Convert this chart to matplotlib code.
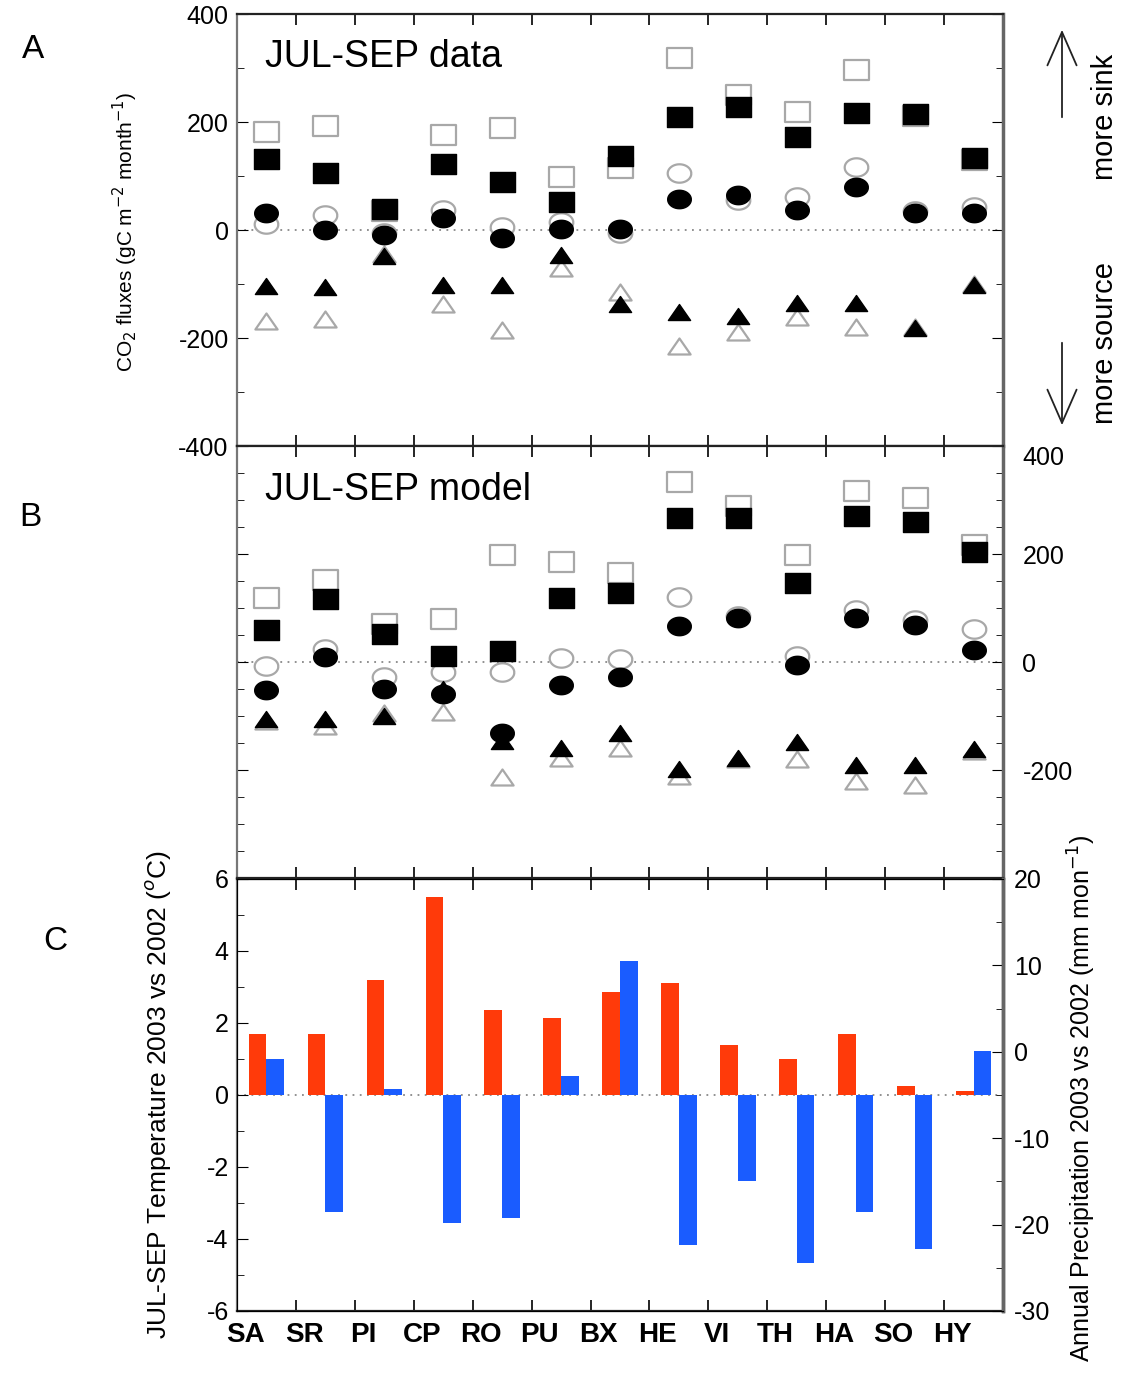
import matplotlib
matplotlib.use('Agg')
import matplotlib.pyplot as plt
import numpy as np
from matplotlib.path import Path
from matplotlib.ticker import MultipleLocator, FixedLocator

plt.rcParams['font.family'] = ['Liberation Sans', 'DejaVu Sans']
plt.rcParams['axes.unicode_minus'] = False

sites = ["SA", "SR", "PI", "CP", "RO", "PU", "BX", "HE", "VI", "TH", "HA", "SO", "HY"]

# panel A - data (filled = 2003, open = 2002)
a_sq_fill = [131, 105, 38, 122, 88, 52, 137, 209, 228, 173, 217, 215, 133]
a_sq_open = [182, 193, 35, 176, 188, 99, 114, 318, 250, 219, 296, 212, 130]
a_ci_fill = [31, 0, -9, 22, -15, 1, 1, 57, 65, 37, 79, 32, 31]
a_ci_open = [11, 28, -5, 37, 6, 14, -5, 106, 56, 62, 116, 35, 43]
a_tr_fill = [-104, -106, -49, -102, -102, -46, -137, -151, -159, -135, -135, -182, -102]
a_tr_open = [-168, -164, -45, -137, -185, -71, -114, -215, -188, -161, -180, -180, -100]

# panel B - model
b_sq_fill = [60, 117, 52, 12, 21, 118, 128, 266, 266, 147, 271, 259, 204]
b_sq_open = [118, 151, 71, 80, 199, 185, 164, 334, 288, 198, 316, 303, 216]
b_ci_fill = [-52, 9, -50, -60, -131, -43, -27, 66, 82, -5, 82, 68, 23]
b_ci_open = [-7, 24, -28, -19, -19, 7, 6, 120, 85, 12, 97, 77, 61]
b_tr_fill = [-106, -105, -100, -50, -146, -159, -132, -199, -177, -148, -190, -190, -162]
b_tr_open = [-110, -118, -95, -92, -213, -177, -159, -211, -180, -180, -221, -227, -165]

# panel C
temp_diff = [1.7, 1.7, 3.2, 5.5, 2.35, 2.15, 2.85, 3.1, 1.4, 1.0, 1.7, 0.25, 0.1]
precip_diff = [-0.8, -18.5, -4.3, -19.8, -19.2, -2.8, 10.5, -22.4, -14.9, -24.5, -18.5, -22.8, 0.1]
precip_base = -5  # bars start at the temperature zero line

x = np.arange(len(sites)) + 0.5

# slightly wide markers (the original figure is stretched horizontally)
sq = Path([(-1, -0.82), (1, -0.82), (1, 0.82), (-1, 0.82), (-1, -0.82)],
          [Path.MOVETO, Path.LINETO, Path.LINETO, Path.LINETO, Path.CLOSEPOLY])
t = np.linspace(0, 2 * np.pi, 60)
ci = Path(np.column_stack([np.cos(t), 0.78 * np.sin(t)]))
tri = Path([(0, 0.72), (-1, -0.72), (1, -0.72), (0, 0.72)],
           [Path.MOVETO, Path.LINETO, Path.LINETO, Path.CLOSEPOLY])

GREY = '#a8a8a8'
TICKFS = 18

fig = plt.figure(figsize=(11.31, 13.77), dpi=100)
L, W, H = 237 / 1131, 766 / 1131, 432 / 1377
axA = fig.add_axes([L, 1 - 446 / 1377, W, H])
axB = fig.add_axes([L, 1 - 878 / 1377, W, H])
axC = fig.add_axes([L, 1 - 1311 / 1377, W, H])


def style_axes(ax):
    ax.set_xlim(0, 13)
    ax.xaxis.set_major_locator(FixedLocator(np.arange(1, 13)))
    ax.tick_params(axis='x', which='major', direction='in', length=8, width=1.2,
                   top=True, bottom=True, labelbottom=False)
    for s in ['top', 'bottom']:
        ax.spines[s].set_linewidth(1.6)
        ax.spines[s].set_color('#222')
    ax.spines['left'].set_linewidth(1.6)
    ax.spines['left'].set_color('#777')
    ax.spines['right'].set_linewidth(2.5)
    ax.spines['right'].set_color('#666')


def draw_points(ax, sqf, sqo, cif, cio, trf, tro):
    ax.axhline(0, color='#888', lw=1.3, ls=(0, (1, 3)), zorder=1)
    for vals, m, ms in [(sqo, sq, 18), (cio, ci, 17), (tro, tri, 16)]:
        ax.plot(x, vals, ls='none', marker=m, ms=ms, mfc='white', mec=GREY, mew=1.6, zorder=2)
    for vals, m, ms in [(sqf, sq, 18), (cif, ci, 17), (trf, tri, 16)]:
        ax.plot(x, vals, ls='none', marker=m, ms=ms, mfc='black', mec='black', mew=1, zorder=3)


# ---- panel A ----
style_axes(axA)
draw_points(axA, a_sq_fill, a_sq_open, a_ci_fill, a_ci_open, a_tr_fill, a_tr_open)
axA.set_ylim(-400, 400)
axA.set_yticks([400, 200, 0, -200, -400])
axA.yaxis.set_minor_locator(MultipleLocator(100))
axA.tick_params(axis='y', which='both', direction='in', left=True, right=True, labelsize=TICKFS, pad=6)
axA.tick_params(axis='y', which='major', length=8)
axA.tick_params(axis='y', which='minor', length=5)
axA.text(0.037, 0.90, "JUL-SEP data", transform=axA.transAxes, fontsize=27, va='center', ha='left')

# ---- panel B ----
style_axes(axB)
draw_points(axB, b_sq_fill, b_sq_open, b_ci_fill, b_ci_open, b_tr_fill, b_tr_open)
axB.set_ylim(-400, 400)
axB.set_yticks([400, 200, 0, -200])
axB.yaxis.set_minor_locator(MultipleLocator(50))
axB.tick_params(axis='y', which='both', direction='in', left=True, right=True,
                labelleft=False, labelright=True, labelsize=TICKFS, pad=14)
axB.tick_params(axis='y', which='major', length=8)
axB.tick_params(axis='y', which='minor', length=5)
axB.get_yticklabels()[0].set_va('top')
axB.text(0.037, 0.898, "JUL-SEP model", transform=axB.transAxes, fontsize=27, va='center', ha='left')

# ---- panel C ----
style_axes(axC)
axC.bar(x - 0.15, temp_diff, width=0.3, color='#ff3a0a', zorder=2)
axC.axhline(0, color='#888', lw=1.3, ls=(0, (1, 3)), zorder=1)
axC.set_ylim(-6, 6)
axC.set_yticks([6, 4, 2, 0, -2, -4, -6])
axC.yaxis.set_minor_locator(MultipleLocator(1))
axC.tick_params(axis='y', which='both', direction='in', left=True, right=False, labelsize=TICKFS, pad=6)
axC.tick_params(axis='y', which='major', length=8)
axC.tick_params(axis='y', which='minor', length=5)
axC.set_xticks(x - 0.36, sites, minor=True)
axC.tick_params(axis='x', which='minor', length=0, labelsize=20, pad=8)
for lab in axC.get_xticklabels(minor=True):
    lab.set_fontweight('bold')

axC2 = axC.twinx()
axC2.bar(x + 0.15, np.array(precip_diff) - precip_base, width=0.3, bottom=precip_base,
         color='#1a5cff', zorder=2)
axC2.set_ylim(-30, 20)
axC2.set_yticks([20, 10, 0, -10, -20, -30])
axC2.yaxis.set_minor_locator(MultipleLocator(5))
axC2.tick_params(axis='y', which='both', direction='in', labelsize=TICKFS, pad=8)
axC2.tick_params(axis='y', which='major', length=8)
axC2.tick_params(axis='y', which='minor', length=5)
axC2.spines['right'].set_linewidth(2.5)
axC2.spines['right'].set_color('#666')
axC2.set_xlim(0, 13)

# ---- labels & annotations ----
fig.text(33 / 1131, 1 - 50 / 1377, "A", fontsize=24, ha='center', va='center')
fig.text(30 / 1131, 1 - 518 / 1377, "B", fontsize=24, ha='center', va='center')
fig.text(55 / 1131, 1 - 942 / 1377, "C", fontsize=24, ha='center', va='center')

fig.text(125 / 1131, 1 - 232 / 1377, "CO$_2$ fluxes (gC m$^{-2}$ month$^{-1}$)",
         rotation=90, fontsize=15, ha='center', va='center')
fig.text(158 / 1131, 1 - 1094 / 1377, "JUL-SEP Temperature 2003 vs 2002 ($^{o}$C)",
         rotation=90, fontsize=19, ha='center', va='center')
fig.text(1082 / 1131, 1 - 1098 / 1377, "Annual Precipitation 2003 vs 2002 (mm mon$^{-1}$)",
         rotation=90, fontsize=18, ha='center', va='center')

fig.text(1105 / 1131, 1 - 117 / 1377, "more sink", rotation=90, fontsize=21, ha='center', va='center')
fig.text(1105 / 1131, 1 - 343 / 1377, "more source", rotation=90, fontsize=21, ha='center', va='center')
for y0, y1 in [(120, 27), (340, 428)]:
    fig.patches.append(matplotlib.patches.FancyArrowPatch(
        (1062 / 1131, 1 - y0 / 1377), (1062 / 1131, 1 - y1 / 1377), transform=fig.transFigure,
        arrowstyle='->,head_width=0.35,head_length=0.8', mutation_scale=30, lw=1.3, color='#222'))

fig.savefig("out.png", dpi=100)
